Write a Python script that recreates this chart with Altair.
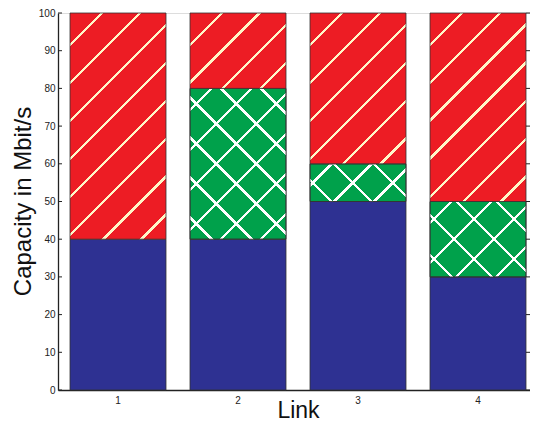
import altair as alt
import pandas as pd

# ---- data ----
links = ["1", "2", "3", "4"]
blue_vals = [40, 40, 50, 30]
green_vals = [0, 40, 10, 20]
red_vals = [60, 20, 40, 50]
y_ticks = [0, 10, 20, 30, 40, 50, 60, 70, 80, 90, 100]

# ---- styling ----
W, H = 472, 377
XR = 480          # band scale range (bars keep their reference spacing)
BAR_W = 96
BLUE = "#2E3192"
GREEN = "#00A14B"
RED = "#ED1C24"
CREAM = "#FFF6C8"
WHITE = "#FFFFFF"
CLEAR = "rgba(255,255,255,0)"
FONT = "Liberation Sans"
STROKE = "#333333"


def stripe_gradient(w, h, period, band, bg, fg, direction, phase=0.0):
    L = w + h
    n2 = w * w + h * h
    stops = []
    k = -1
    while True:
        s = phase + k * period
        if s > L:
            break
        a, b = s / L, (s + band) / L
        if b >= 0:
            a2 = min(max(a, 0.0), 1.0)
            b2 = min(max(b, 0.0), 1.0)
            stops += [(a2, bg), (a2, fg), (b2, fg), (b2, bg)]
        k += 1
    stops = [(0.0, bg)] + stops + [(1.0, bg)]
    gs = [alt.GradientStop(color=c, offset=round(o, 5)) for o, c in stops]
    if direction == "ur":
        return alt.LinearGradient(gradient="linear", stops=gs, x1=0, y1=0,
                                  x2=w * L / n2, y2=h * L / n2)
    return alt.LinearGradient(gradient="linear", stops=gs, x1=0, y1=1,
                              x2=w * L / n2, y2=1 - h * L / n2)


rows = []
for i, lk in enumerate(links):
    b, g, r = blue_vals[i], green_vals[i], red_vals[i]
    rows.append(dict(link=lk, series="blue", lo=0, hi=b, value=b))
    rows.append(dict(link=lk, series="green", lo=b, hi=b + g, value=g))
    rows.append(dict(link=lk, series="red", lo=b + g, hi=b + g + r, value=r))
df = pd.DataFrame(rows)

xscale = alt.Scale(paddingInner=0.2, paddingOuter=0.1, range=[0, XR])
yscale = alt.Scale(domain=[0, 100], nice=False)

x_axis = alt.Axis(
    title="Link", labelAngle=0, ticks=False, labelPadding=5,
    titleFontSize=23, titleFont=FONT, titleFontWeight="normal",
    titleX=XR / 2, titleY=27, titleBaseline="alphabetic", titleColor="#111",
    labelFont=FONT, labelFontSize=10, labelColor="#222",
    domainColor="#222", domainWidth=1.3)
y_axis = alt.Axis(
    title="Capacity in Mbit/s", values=y_ticks, tickCount=11, ticks=False,
    labelPadding=3, labelOverlap=False,
    grid=False, titleFontSize=24, titleFont=FONT, titleFontWeight="normal",
    titleAngle=270, titleX=-28, titleY=188, titleBaseline="alphabetic",
    titleAlign="center", titleColor="#111",
    labelFont=FONT, labelFontSize=10, labelColor="#222",
    domainColor="#222", domainWidth=1.3)


def X():
    return alt.X("link:O", scale=xscale, axis=x_axis)


def Y(field):
    return alt.Y(field, scale=yscale, axis=y_axis)


layers = []
blue_layer = alt.Chart(df[df.series == "blue"]).mark_bar(
    fill=BLUE, stroke=STROKE, strokeWidth=0.8
).encode(x=X(), y=Y("lo:Q"), y2="hi:Q")
layers.append(blue_layer)

for i, lk in enumerate(links):
    for series in ["green", "red"]:
        sub = df[(df.link == lk) & (df.series == series)]
        v = float(sub.value.iloc[0])
        if v <= 0:
            continue
        h = v * H / 100.0
        if series == "red":
            grad = stripe_gradient(BAR_W, h, 38, 3.6, RED, CREAM, "ur", phase=30)
            layers.append(alt.Chart(sub).mark_bar(
                fill=grad, stroke=STROKE, strokeWidth=0.8
            ).encode(x=X(), y=Y("lo:Q"), y2="hi:Q"))
        else:
            g1 = stripe_gradient(BAR_W, h, 40, 3.4, GREEN, WHITE, "ur", phase=20)
            g2 = stripe_gradient(BAR_W, h, 40, 3.4, CLEAR, WHITE, "ul", phase=20)
            layers.append(alt.Chart(sub).mark_bar(
                fill=g1, stroke=STROKE, strokeWidth=0.8
            ).encode(x=X(), y=Y("lo:Q"), y2="hi:Q"))
            layers.append(alt.Chart(sub).mark_bar(
                fill=g2, stroke=STROKE, strokeWidth=0.8
            ).encode(x=X(), y=Y("lo:Q"), y2="hi:Q"))

tick_df = pd.DataFrame({"v": y_ticks})
left_ticks = alt.Chart(tick_df).mark_rule(color="#222", strokeWidth=1).encode(
    y=Y("v:Q"), x=alt.value(0), x2=alt.value(4))
right_ticks = alt.Chart(tick_df).mark_rule(color="#222", strokeWidth=1).encode(
    y=Y("v:Q"), x=alt.value(W - 4), x2=alt.value(W))
layers += [left_ticks, right_ticks]

chart = alt.layer(*layers).properties(
    width=W, height=H,
    padding={"left": 50, "top": 5, "right": 0, "bottom": 32},
    autosize=alt.AutoSizeParams(type="none"),
).configure_view(stroke="#222", strokeWidth=1.2).configure(background="white")

chart.save("out.html", embed_options={"renderer": "svg", "actions": False})
